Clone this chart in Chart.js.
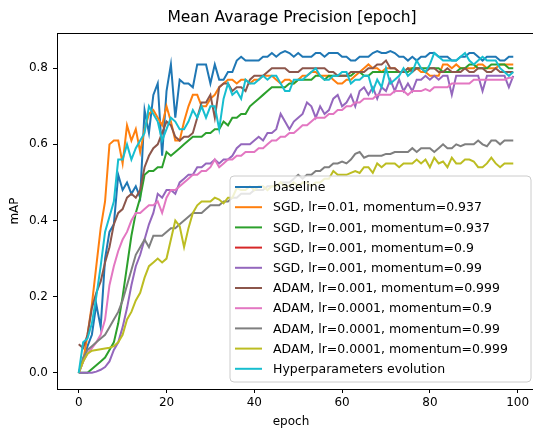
<!DOCTYPE html>
<html>
<head>
<meta charset="utf-8">
<script src="https://cdn.jsdelivr.net/npm/chart.js@4.4.1/dist/chart.umd.min.js"></script>
<style>
  html, body { margin: 0; padding: 0; background: #fff; overflow: hidden; }
  #wrap { width: 545px; height: 430px; }
</style>
</head>
<body>
<div id="wrap"><canvas id="chart" width="545" height="430"></canvas></div>
<script>
// === data (mAP per epoch) ===
const epochs = Array.from({ length: 100 }, (_, i) => i);

const baseline = [0.00,0.03,0.07,0.10,0.18,0.12,0.30,0.37,0.39,0.52,0.48,0.50,0.47,0.49,0.46,0.69,0.63,0.73,0.76,0.57,
  0.74,0.81,0.67,0.77,0.76,0.76,0.75,0.81,0.81,0.81,0.76,0.81,0.77,0.77,0.79,0.79,0.82,0.83,0.82,0.82,
  0.82,0.82,0.83,0.83,0.84,0.83,0.84,0.845,0.84,0.83,0.84,0.83,0.83,0.83,0.84,0.84,0.83,0.84,0.84,0.84,
  0.83,0.83,0.82,0.82,0.83,0.83,0.83,0.84,0.845,0.84,0.84,0.845,0.84,0.83,0.83,0.82,0.83,0.82,0.83,0.83,
  0.84,0.84,0.83,0.83,0.83,0.82,0.82,0.83,0.83,0.84,0.84,0.83,0.82,0.83,0.83,0.83,0.82,0.82,0.83,0.83];

const sgd01_0937 = [0.00,0.03,0.10,0.18,0.28,0.38,0.45,0.60,0.61,0.61,0.55,0.65,0.61,0.64,0.58,0.64,0.68,0.69,0.67,0.65,
  0.70,0.66,0.61,0.61,0.66,0.70,0.73,0.73,0.70,0.70,0.72,0.73,0.75,0.76,0.77,0.77,0.76,0.77,0.77,0.76,
  0.77,0.77,0.78,0.78,0.78,0.77,0.76,0.77,0.77,0.76,0.77,0.78,0.78,0.79,0.79,0.78,0.78,0.78,0.77,0.76,
  0.76,0.77,0.77,0.78,0.79,0.80,0.81,0.80,0.80,0.79,0.80,0.80,0.80,0.79,0.79,0.80,0.80,0.80,0.79,0.79,
  0.78,0.78,0.78,0.81,0.81,0.80,0.81,0.80,0.80,0.80,0.80,0.81,0.81,0.80,0.80,0.80,0.81,0.81,0.81,0.81];

const sgd001_0937 = [0.00,0.00,0.00,0.01,0.02,0.03,0.04,0.06,0.08,0.13,0.20,0.28,0.36,0.42,0.46,0.52,0.53,0.53,0.54,0.54,
  0.58,0.57,0.58,0.59,0.60,0.61,0.62,0.62,0.62,0.63,0.63,0.64,0.64,0.66,0.65,0.67,0.67,0.68,0.68,0.70,
  0.71,0.72,0.73,0.74,0.75,0.75,0.75,0.75,0.76,0.76,0.77,0.77,0.77,0.77,0.78,0.78,0.77,0.78,0.78,0.78,
  0.78,0.78,0.78,0.79,0.79,0.78,0.78,0.79,0.79,0.79,0.79,0.79,0.79,0.79,0.79,0.79,0.80,0.80,0.80,0.80,
  0.80,0.80,0.80,0.79,0.79,0.79,0.79,0.80,0.80,0.81,0.81,0.80,0.80,0.80,0.81,0.81,0.81,0.81,0.80,0.80];

// not visible in the picture (hidden under the other curves)
const sgd001_09 = [];

const sgd001_099 = [0.00,0.00,0.00,0.00,0.003,0.008,0.015,0.03,0.06,0.08,0.12,0.17,0.23,0.28,0.31,0.35,0.39,0.42,0.47,0.46,
  0.48,0.48,0.47,0.50,0.51,0.52,0.52,0.54,0.54,0.55,0.55,0.56,0.55,0.56,0.56,0.57,0.59,0.60,0.60,0.60,
  0.61,0.62,0.61,0.63,0.63,0.64,0.68,0.66,0.64,0.66,0.67,0.68,0.71,0.70,0.67,0.70,0.68,0.69,0.72,0.73,
  0.70,0.71,0.73,0.70,0.74,0.75,0.73,0.75,0.72,0.75,0.74,0.77,0.74,0.77,0.74,0.76,0.74,0.77,0.77,0.78,
  0.77,0.78,0.77,0.78,0.78,0.73,0.78,0.78,0.78,0.78,0.78,0.78,0.74,0.78,0.78,0.78,0.78,0.78,0.75,0.78];

const adam001_0999 = [0.075,0.065,0.10,0.17,0.21,0.24,0.29,0.33,0.39,0.42,0.43,0.46,0.47,0.46,0.48,0.54,0.57,0.59,0.60,0.63,
  0.66,0.65,0.62,0.61,0.62,0.62,0.63,0.67,0.71,0.71,0.73,0.67,0.75,0.76,0.76,0.74,0.75,0.75,0.74,0.77,
  0.78,0.78,0.78,0.79,0.80,0.80,0.80,0.80,0.79,0.79,0.79,0.80,0.80,0.80,0.80,0.80,0.80,0.79,0.79,0.78,
  0.78,0.78,0.79,0.79,0.79,0.79,0.80,0.80,0.81,0.81,0.82,0.80,0.80,0.79,0.79,0.80,0.79,0.80,0.80,0.79,
  0.80,0.80,0.79,0.79,0.80,0.79,0.79,0.79,0.80,0.79,0.79,0.80,0.80,0.79,0.79,0.80,0.79,0.79,0.79,0.79];

const adam0001_09 = [0.00,0.03,0.05,0.065,0.08,0.10,0.14,0.23,0.28,0.32,0.35,0.37,0.40,0.42,0.42,0.43,0.44,0.44,0.45,0.42,
  0.46,0.48,0.48,0.49,0.50,0.51,0.52,0.52,0.53,0.53,0.54,0.56,0.54,0.55,0.56,0.56,0.57,0.57,0.58,0.58,
  0.58,0.59,0.59,0.60,0.61,0.61,0.62,0.62,0.63,0.63,0.64,0.65,0.65,0.66,0.67,0.67,0.67,0.68,0.68,0.69,
  0.69,0.70,0.70,0.71,0.71,0.72,0.72,0.72,0.73,0.73,0.73,0.73,0.74,0.74,0.74,0.73,0.74,0.74,0.74,0.745,
  0.74,0.75,0.75,0.75,0.75,0.76,0.76,0.76,0.76,0.76,0.77,0.77,0.77,0.77,0.77,0.77,0.77,0.77,0.775,0.775];

const adam0001_099 = [0.00,0.04,0.06,0.07,0.08,0.09,0.10,0.12,0.14,0.16,0.19,0.23,0.27,0.31,0.33,0.35,0.33,0.36,0.36,0.36,
  0.37,0.38,0.38,0.39,0.40,0.41,0.42,0.42,0.42,0.43,0.44,0.44,0.44,0.45,0.45,0.46,0.46,0.47,0.47,0.47,
  0.48,0.48,0.48,0.49,0.49,0.49,0.50,0.50,0.50,0.51,0.52,0.51,0.52,0.52,0.53,0.53,0.54,0.54,0.55,0.55,
  0.555,0.55,0.56,0.575,0.58,0.565,0.57,0.57,0.57,0.57,0.575,0.575,0.58,0.58,0.58,0.58,0.59,0.58,0.59,0.59,
  0.59,0.58,0.59,0.60,0.59,0.59,0.60,0.595,0.60,0.60,0.60,0.61,0.60,0.595,0.61,0.61,0.60,0.61,0.61,0.61];

const adam0001_0999 = [0.00,0.03,0.05,0.058,0.06,0.062,0.064,0.066,0.07,0.08,0.10,0.14,0.16,0.19,0.21,0.25,0.28,0.29,0.30,0.29,
  0.30,0.35,0.40,0.385,0.33,0.38,0.42,0.44,0.45,0.45,0.45,0.46,0.455,0.445,0.46,0.46,0.485,0.48,0.48,0.49,
  0.48,0.49,0.49,0.48,0.49,0.49,0.50,0.49,0.49,0.50,0.49,0.50,0.50,0.49,0.50,0.50,0.51,0.51,0.53,0.52,
  0.52,0.52,0.525,0.53,0.525,0.54,0.54,0.525,0.55,0.54,0.55,0.55,0.55,0.54,0.55,0.55,0.55,0.56,0.55,0.56,
  0.54,0.565,0.55,0.555,0.54,0.565,0.55,0.55,0.56,0.56,0.555,0.54,0.54,0.55,0.565,0.55,0.54,0.55,0.55,0.55];

const hypEvolution = [0.00,0.08,0.09,0.13,0.20,0.28,0.37,0.41,0.45,0.56,0.56,0.60,0.56,0.59,0.61,0.63,0.70,0.68,0.66,0.61,
  0.64,0.67,0.66,0.64,0.64,0.66,0.69,0.67,0.70,0.67,0.70,0.70,0.64,0.72,0.76,0.73,0.74,0.72,0.77,0.76,
  0.76,0.77,0.78,0.77,0.78,0.78,0.76,0.74,0.74,0.77,0.77,0.77,0.78,0.79,0.80,0.78,0.77,0.77,0.78,0.78,
  0.79,0.79,0.76,0.77,0.77,0.78,0.78,0.74,0.77,0.75,0.80,0.76,0.77,0.78,0.80,0.78,0.79,0.82,0.80,0.79,
  0.81,0.84,0.83,0.82,0.82,0.82,0.82,0.83,0.84,0.82,0.81,0.82,0.83,0.82,0.82,0.82,0.80,0.79,0.78,0.79];

const seriesNames = [
  "baseline",
  "SGD, lr=0.01, momentum=0.937",
  "SGD, lr=0.001, momentum=0.937",
  "SGD, lr=0.001, momentum=0.9",
  "SGD, lr=0.001, momentum=0.99",
  "ADAM, lr=0.001, momentum=0.999",
  "ADAM, lr=0.0001, momentum=0.9",
  "ADAM, lr=0.0001, momentum=0.99",
  "ADAM, lr=0.0001, momentum=0.999",
  "Hyperparameters evolution",
];
const seriesData = [baseline, sgd01_0937, sgd001_0937, sgd001_09, sgd001_099,
  adam001_0999, adam0001_09, adam0001_099, adam0001_0999, hypEvolution];
const colors = ["#1f77b4", "#ff7f0e", "#2ca02c", "#d62728", "#9467bd",
  "#8c564b", "#e377c2", "#7f7f7f", "#bcbd22", "#17becf"];

const xTicks = [0, 20, 40, 60, 80, 100];
const yTicks = [0.0, 0.2, 0.4, 0.6, 0.8];

const FONT = "'DejaVu Sans', sans-serif";

// === title, axis labels, spines and legend (matplotlib look) ===
const mplDecor = {
  id: "mplDecor",
  afterDraw(chart) {
    const { ctx, chartArea: a } = chart;
    ctx.save();
    // spines
    ctx.strokeStyle = "#000";
    ctx.lineWidth = 1;
    ctx.strokeRect(Math.round(a.left) + 0.5, Math.round(a.top) + 0.5,
      Math.round(a.right - a.left), Math.round(a.bottom - a.top));

    // title + axis labels
    ctx.fillStyle = "#000";
    ctx.textAlign = "center";
    ctx.textBaseline = "middle";
    ctx.font = "15.5px " + FONT;
    ctx.fillText("Mean Avarage Precision [epoch]", 292, 18);
    ctx.font = "12px " + FONT;
    ctx.fillText("epoch", 291, 422);
    ctx.translate(15, 211);
    ctx.rotate(-Math.PI / 2);
    ctx.fillText("mAP", 0, 0);
    ctx.setTransform(1, 0, 0, 1, 0, 0);

    // legend box
    const lx = 230, ly = 176, lw = 301, lh = 206, r = 4;
    ctx.beginPath();
    ctx.moveTo(lx + r, ly);
    ctx.arcTo(lx + lw, ly, lx + lw, ly + lh, r);
    ctx.arcTo(lx + lw, ly + lh, lx, ly + lh, r);
    ctx.arcTo(lx, ly + lh, lx, ly, r);
    ctx.arcTo(lx, ly, lx + lw, ly, r);
    ctx.closePath();
    ctx.fillStyle = "rgba(255,255,255,0.8)";
    ctx.fill();
    ctx.strokeStyle = "#cccccc";
    ctx.lineWidth = 1;
    ctx.stroke();

    ctx.font = "12.5px " + FONT;
    ctx.textAlign = "left";
    ctx.textBaseline = "middle";
    seriesNames.forEach((name, i) => {
      const yy = 187 + i * 20.2;
      ctx.strokeStyle = colors[i];
      ctx.lineWidth = 2;
      ctx.beginPath();
      ctx.moveTo(235, yy);
      ctx.lineTo(262, yy);
      ctx.stroke();
      ctx.fillStyle = "#000";
      ctx.fillText(name, 273, yy + 1);
    });
    ctx.restore();
  },
};

new Chart(document.getElementById("chart"), {
  type: "line",
  data: {
    datasets: seriesData.map((vals, i) => ({
      label: seriesNames[i],
      data: vals.map((v, k) => ({ x: epochs[k], y: v })),
      borderColor: colors[i],
      backgroundColor: colors[i],
      borderWidth: 2,
      pointRadius: 0,
      tension: 0,
      order: -i, // later series on top, like matplotlib
    })),
  },
  options: {
    responsive: false,
    devicePixelRatio: 1,
    animation: false,
    layout: { padding: { top: 33, right: 10, left: 0, bottom: 0 } },
    plugins: {
      legend: { display: false },
      title: { display: false },
      tooltip: { enabled: false },
    },
    scales: {
      x: {
        type: "linear",
        min: -4.95,
        max: 103.95,
        afterBuildTicks: (s) => { s.ticks = xTicks.map((v) => ({ value: v })); },
        afterFit: (s) => { s.height = 41; },
        grid: { display: true, drawOnChartArea: false, drawTicks: true, tickLength: 4, color: "#000" },
        border: { display: false },
        ticks: { color: "#000", padding: 3, maxRotation: 0, font: { family: FONT, size: 12 } },
      },
      y: {
        type: "linear",
        min: -0.0425,
        max: 0.8925,
        afterBuildTicks: (s) => { s.ticks = yTicks.map((v) => ({ value: v })); },
        afterFit: (s) => { s.width = 57; },
        grid: { display: true, drawOnChartArea: false, drawTicks: true, tickLength: 4, color: "#000" },
        border: { display: false },
        ticks: {
          color: "#000",
          padding: 5,
          font: { family: FONT, size: 12 },
          callback: (v) => v.toFixed(1),
        },
      },
    },
  },
  plugins: [mplDecor],
});
</script>
</body>
</html>
